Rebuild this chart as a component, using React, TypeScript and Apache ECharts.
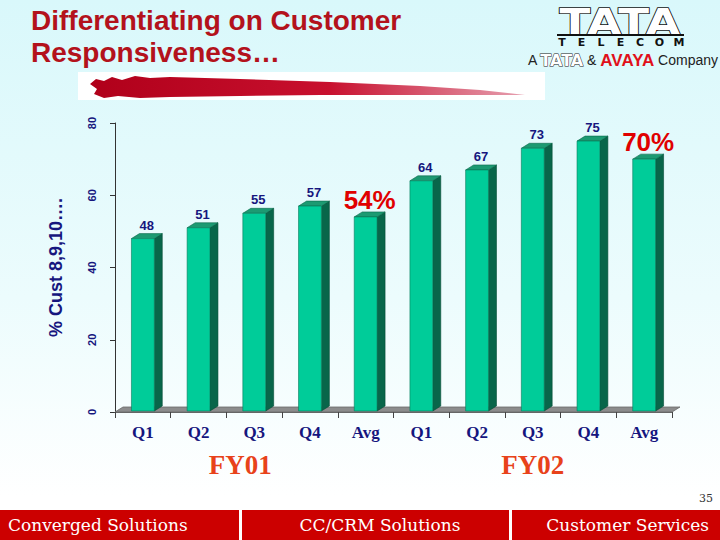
import React, { useEffect, useRef } from "react";
import * as echarts from "echarts";

const categories = ["Q1", "Q2", "Q3", "Q4", "Avg", "Q1", "Q2", "Q3", "Q4", "Avg"];
const values = [48, 51, 55, 57, 54, 64, 67, 73, 75, 70];
const yTicks = [0, 20, 40, 60, 80];
const fiscalYears = ["FY01", "FY02"];
const footerItems = ["Converged Solutions", "CC/CRM Solutions", "Customer Services"];
const titleLines = ["Differentiating on Customer", "Responsiveness…"];
const yAxisTitle = "% Cust 8,9,10….";
const pageNumber = "35";

const NAVY = "#16167e";
const DX = 8;
const DY = -5;

export default function App() {
  const ref = useRef<HTMLDivElement>(null);
  useEffect(() => {
    if (!ref.current) return;
    const chart = echarts.init(ref.current, null, { renderer: "svg" });
    const grid = { left: 115, right: 48, top: 123, bottom: 128 };
    const plotW = 720 - grid.left - grid.right;
    const slot = plotW / categories.length;
    const fyCenters = [grid.left + slot * 2.25, grid.left + slot * 7.5];

    const telecom = "TELECOM".split("");
    const option: any = {
      animation: false,
      backgroundColor: new echarts.graphic.LinearGradient(0, 0, 0, 1, [
        { offset: 0, color: "#d9f8fb" },
        { offset: 0.55, color: "#ecfcfd" },
        { offset: 0.92, color: "#ffffff" },
        { offset: 1, color: "#ffffff" },
      ]),
      grid,
      xAxis: {
        type: "category",
        data: categories,
        axisLine: { show: true, lineStyle: { color: "#666", width: 1 } },
        axisTick: { show: true, length: 6, lineStyle: { color: "#444" } },
        axisLabel: {
          color: NAVY,
          fontFamily: "Liberation Serif, Times New Roman, serif",
          fontWeight: "bold",
          fontSize: 17,
          margin: 12,
        },
        z: 1,
      },
      yAxis: {
        type: "value",
        min: 0,
        max: yTicks[yTicks.length - 1],
        interval: yTicks[1] - yTicks[0],
        name: yAxisTitle,
        nameLocation: "middle",
        nameRotate: 90,
        nameGap: 50,
        nameTextStyle: {
          color: NAVY,
          fontFamily: "Liberation Sans, Arial, sans-serif",
          fontWeight: "bold",
          fontSize: 18,
        },
        axisLine: { show: true, lineStyle: { color: "#333", width: 1 } },
        axisTick: { show: true, length: 5, lineStyle: { color: "#333" } },
        splitLine: { show: false },
        axisLabel: {
          rotate: 90,
          color: NAVY,
          fontFamily: "Liberation Sans, Arial, sans-serif",
          fontWeight: "bold",
          fontSize: 11,
          margin: 18,
        },
      },
      series: [
        {
          type: "custom",
          z: 1,
          data: [[0]],
          renderItem: (params: any, api: any) => {
            const cs = params.coordSys;
            const x0 = cs.x;
            const x1 = cs.x + cs.width;
            const y = cs.y + cs.height;
            return {
              type: "group",
              children: [
                {
                  type: "polygon",
                  shape: {
                    points: [
                      [x0, y],
                      [x1, y],
                      [x1 + DX, y + DY],
                      [x0 + DX, y + DY],
                    ],
                  },
                  style: { fill: "#8c8c8c", stroke: "#6a6a6a", lineWidth: 0.8 },
                },
              ],
            };
          },
        },
        {
          type: "custom",
          z: 3,
          data: values.map((v, i) => [i, v]),
          renderItem: (params: any, api: any) => {
            const idx = api.value(0);
            const val = api.value(1);
            const base = api.coord([idx, 0]);
            const top = api.coord([idx, val]);
            const w = api.size([1, 0])[0] * 0.41;
            const xa = base[0] - w / 2;
            const xb = base[0] + w / 2;
            const yT = top[1];
            const yB = base[1] - 1;
            const isAvg = categories[idx] === "Avg";
            return {
              type: "group",
              children: [
                {
                  type: "polygon",
                  shape: {
                    points: [
                      [xb, yB],
                      [xb, yT],
                      [xb + DX, yT + DY],
                      [xb + DX, yB + DY],
                    ],
                  },
                  style: { fill: "#08664a", stroke: "#044a34", lineWidth: 0.6 },
                },
                {
                  type: "polygon",
                  shape: {
                    points: [
                      [xa, yT],
                      [xb, yT],
                      [xb + DX, yT + DY],
                      [xa + DX, yT + DY],
                    ],
                  },
                  style: { fill: "#1c9a72", stroke: "#0b6a4c", lineWidth: 0.6 },
                },
                {
                  type: "rect",
                  shape: { x: xa, y: yT, width: w, height: yB - yT },
                  style: { fill: "#00cc99", stroke: "#087a5a", lineWidth: 0.6 },
                },
                {
                  type: "text",
                  x: base[0] + DX / 2,
                  y: yT + DY - (isAvg ? -1 : 2),
                  style: isAvg
                    ? {
                        text: `${val}%`,
                        fill: "#e00000",
                        font: "bold 26px 'Liberation Sans', Arial, sans-serif",
                        align: "center",
                        verticalAlign: "bottom",
                      }
                    : {
                        text: `${val}`,
                        fill: NAVY,
                        font: "bold 13px 'Liberation Sans', Arial, sans-serif",
                        align: "center",
                        verticalAlign: "bottom",
                      },
                },
              ],
            };
          },
        },
      ],
      graphic: [
        // title
        ...titleLines.map((t, i) => ({
          type: "text",
          left: 31,
          top: 6 + i * 32,
          style: {
            text: t,
            fill: "#b3121c",
            font: "bold 28px 'Liberation Sans', Arial, sans-serif",
          },
        })),
        // brush stroke panel
        {
          type: "rect",
          shape: { x: 78, y: 72, width: 467, height: 28 },
          style: { fill: "#ffffff" },
        },
        {
          type: "polygon",
          shape: {
            points: [
              [90, 84], [96, 79], [104, 81], [112, 77], [122, 80], [135, 76],
              [150, 78], [170, 77], [240, 79], [330, 82], [420, 86], [480, 90],
              [525, 95], [470, 95], [400, 95], [320, 95], [240, 96], [170, 97],
              [140, 98], [118, 96], [104, 98], [94, 94], [97, 89],
            ],
          },
          style: {
            fill: new echarts.graphic.LinearGradient(0, 0, 1, 0, [
              { offset: 0, color: "#b0001a" },
              { offset: 0.55, color: "#c8102e" },
              { offset: 1, color: "#e6a0b0" },
            ]),
          },
        },
        // TATA logo
        {
          type: "text",
          x: 620,
          y: 4,
          scaleX: 1.22,
          originX: 0,
          originY: 0,
          style: {
            text: "TATA",
            fill: "#ffffff",
            stroke: "#111111",
            lineWidth: 1.5,
            font: "bold 37px 'DejaVu Sans', sans-serif",
            align: "center",
            verticalAlign: "top",
          },
        },
        {
          type: "rect",
          shape: { x: 557, y: 34, width: 127, height: 2 },
          style: { fill: "#111" },
        },
        ...telecom.map((ch, i) => ({
          type: "text",
          x: 562 + i * 19.5,
          y: 42,
          style: {
            text: ch,
            fill: "#111",
            font: "bold 11px 'DejaVu Sans', sans-serif",
            align: "center",
            verticalAlign: "middle",
          },
        })),
        {
          type: "text",
          x: 718,
          y: 60,
          style: {
            text: "{a|A }{t|TATA}{a| & }{v|AVAYA}{a| Company}",
            align: "right",
            verticalAlign: "middle",
            rich: {
              a: { fill: "#222", font: "14px 'Liberation Sans', Arial, sans-serif" },
              t: {
                fill: "#ffffff",
                stroke: "#222",
                lineWidth: 1,
                font: "bold 16px 'DejaVu Sans', sans-serif",
              },
              v: { fill: "#e0101a", font: "bold 17px 'Liberation Sans', Arial, sans-serif" },
            },
          },
        },
        // fiscal year labels
        ...fiscalYears.map((fy, i) => ({
          type: "text",
          x: fyCenters[i],
          y: 465,
          style: {
            text: fy,
            fill: "#e8421a",
            font: "bold 27px 'Liberation Serif', 'Times New Roman', serif",
            align: "center",
            verticalAlign: "middle",
          },
        })),
        // page number
        {
          type: "text",
          x: 713,
          y: 498,
          style: {
            text: pageNumber,
            fill: "#333",
            font: "11px 'DejaVu Serif', serif",
            align: "right",
            verticalAlign: "middle",
          },
        },
        // footer band
        {
          type: "rect",
          shape: { x: 0, y: 510, width: 720, height: 30 },
          style: { fill: "#cc0000" },
        },
        {
          type: "rect",
          shape: { x: 239, y: 510, width: 3, height: 30 },
          style: { fill: "#ffffff" },
        },
        {
          type: "rect",
          shape: { x: 509, y: 510, width: 3, height: 30 },
          style: { fill: "#ffffff" },
        },
        ...footerItems.map((t, i) => ({
          type: "text",
          x: [8, 380, 709][i],
          y: 525,
          style: {
            text: t,
            fill: "#ffffff",
            font: "17px 'DejaVu Serif', serif",
            align: ["left", "center", "right"][i],
            verticalAlign: "middle",
          },
        })),
      ],
    };
    chart.setOption(option);
    return () => chart.dispose();
  }, []);
  return (
    <div
      ref={ref}
      style={{ position: "absolute", left: 0, top: 0, width: 720, height: 540 }}
    />
  );
}
